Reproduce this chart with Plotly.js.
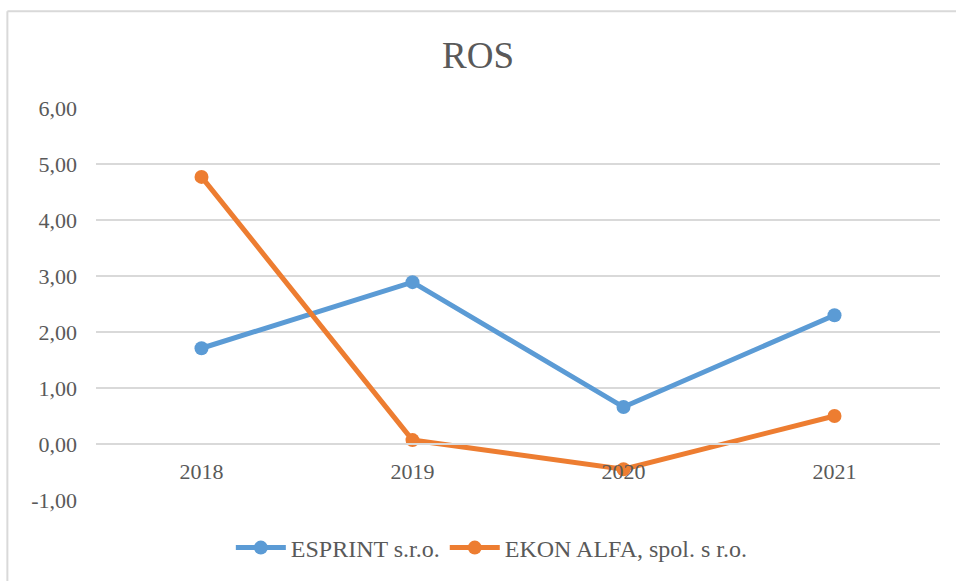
<!DOCTYPE html>
<html><head><meta charset="utf-8">
<script src="https://cdn.plot.ly/plotly-3.0.1.min.js"></script>
<style>html,body{margin:0;padding:0;background:#fff}#chart{width:956px;height:581px}</style>
</head><body><div id="chart"></div>
<script>
const years = ['2018', '2019', '2020', '2021'];
const esprint = [1.71, 2.89, 0.66, 2.30];
const ekon = [4.77, 0.07, -0.45, 0.50];
const seriesNames = ['ESPRINT s.r.o.', 'EKON ALFA, spol. s r.o.'];
const yTicks = [-1, 0, 1, 2, 3, 4, 5, 6];
const yTickText = yTicks.map(v => v.toFixed(2).replace('.', ','));

const font = 'Liberation Serif, Times New Roman, serif';
const traces = [
  {x: years, y: esprint, name: seriesNames[0], type: 'scatter', mode: 'lines+markers',
   line: {color: '#5B9BD5', width: 5}, marker: {color: '#5B9BD5', size: 14}},
  {x: years, y: ekon, name: seriesNames[1], type: 'scatter', mode: 'lines+markers',
   line: {color: '#ED7D31', width: 5}, marker: {color: '#ED7D31', size: 14}}
];
const layout = {
  width: 956, height: 581,
  margin: {l: 96, r: 16, t: 108, b: 81, autoexpand: false},
  paper_bgcolor: '#fff', plot_bgcolor: '#fff',
  font: {family: font, color: '#595959', size: 20},
  title: {text: 'ROS', font: {family: font, size: 37, color: '#595959'}, x: 0.5, xanchor: 'center',
    yref: 'container', y: 1 - 55/581, yanchor: 'middle'},
  xaxis: {type: 'category', range: [-0.5, 3.5], anchor: 'free', position: 1/7,
    showline: true, linecolor: '#D9D9D9', linewidth: 2, showgrid: false, ticks: '',
    ticklabelstandoff: 8,
    tickfont: {family: font, size: 22, color: '#595959'}, fixedrange: true},
  yaxis: {range: [-1, 6], tickvals: yTicks, ticktext: yTickText, showgrid: true,
    gridcolor: '#D9D9D9', gridwidth: 2, zeroline: false, showline: false, ticks: '',
    ticklabelstandoff: 18,
    tickfont: {family: font, size: 22, color: '#595959'}, fixedrange: true},
  showlegend: true,
  legend: {orientation: 'h', x: 0.469, xanchor: 'center', yref: 'container', y: 1 - 548/581, yanchor: 'middle',
    font: {family: font, size: 24, color: '#595959'}, itemwidth: 50, tracegroupgap: 0},
  shapes: [
    {type: 'line', xref: 'paper', yref: 'paper', x0: -0.105, x1: -0.105, y0: -0.3, y1: 1.247, line: {color: '#D9D9D9', width: 2}},
    {type: 'line', xref: 'paper', yref: 'paper', x0: -0.105, x1: 1.1, y0: 1.247, y1: 1.247, line: {color: '#D9D9D9', width: 2}}
  ]
};
Plotly.newPlot('chart', traces, layout, {displayModeBar: false, staticPlot: true});
</script></body></html>
